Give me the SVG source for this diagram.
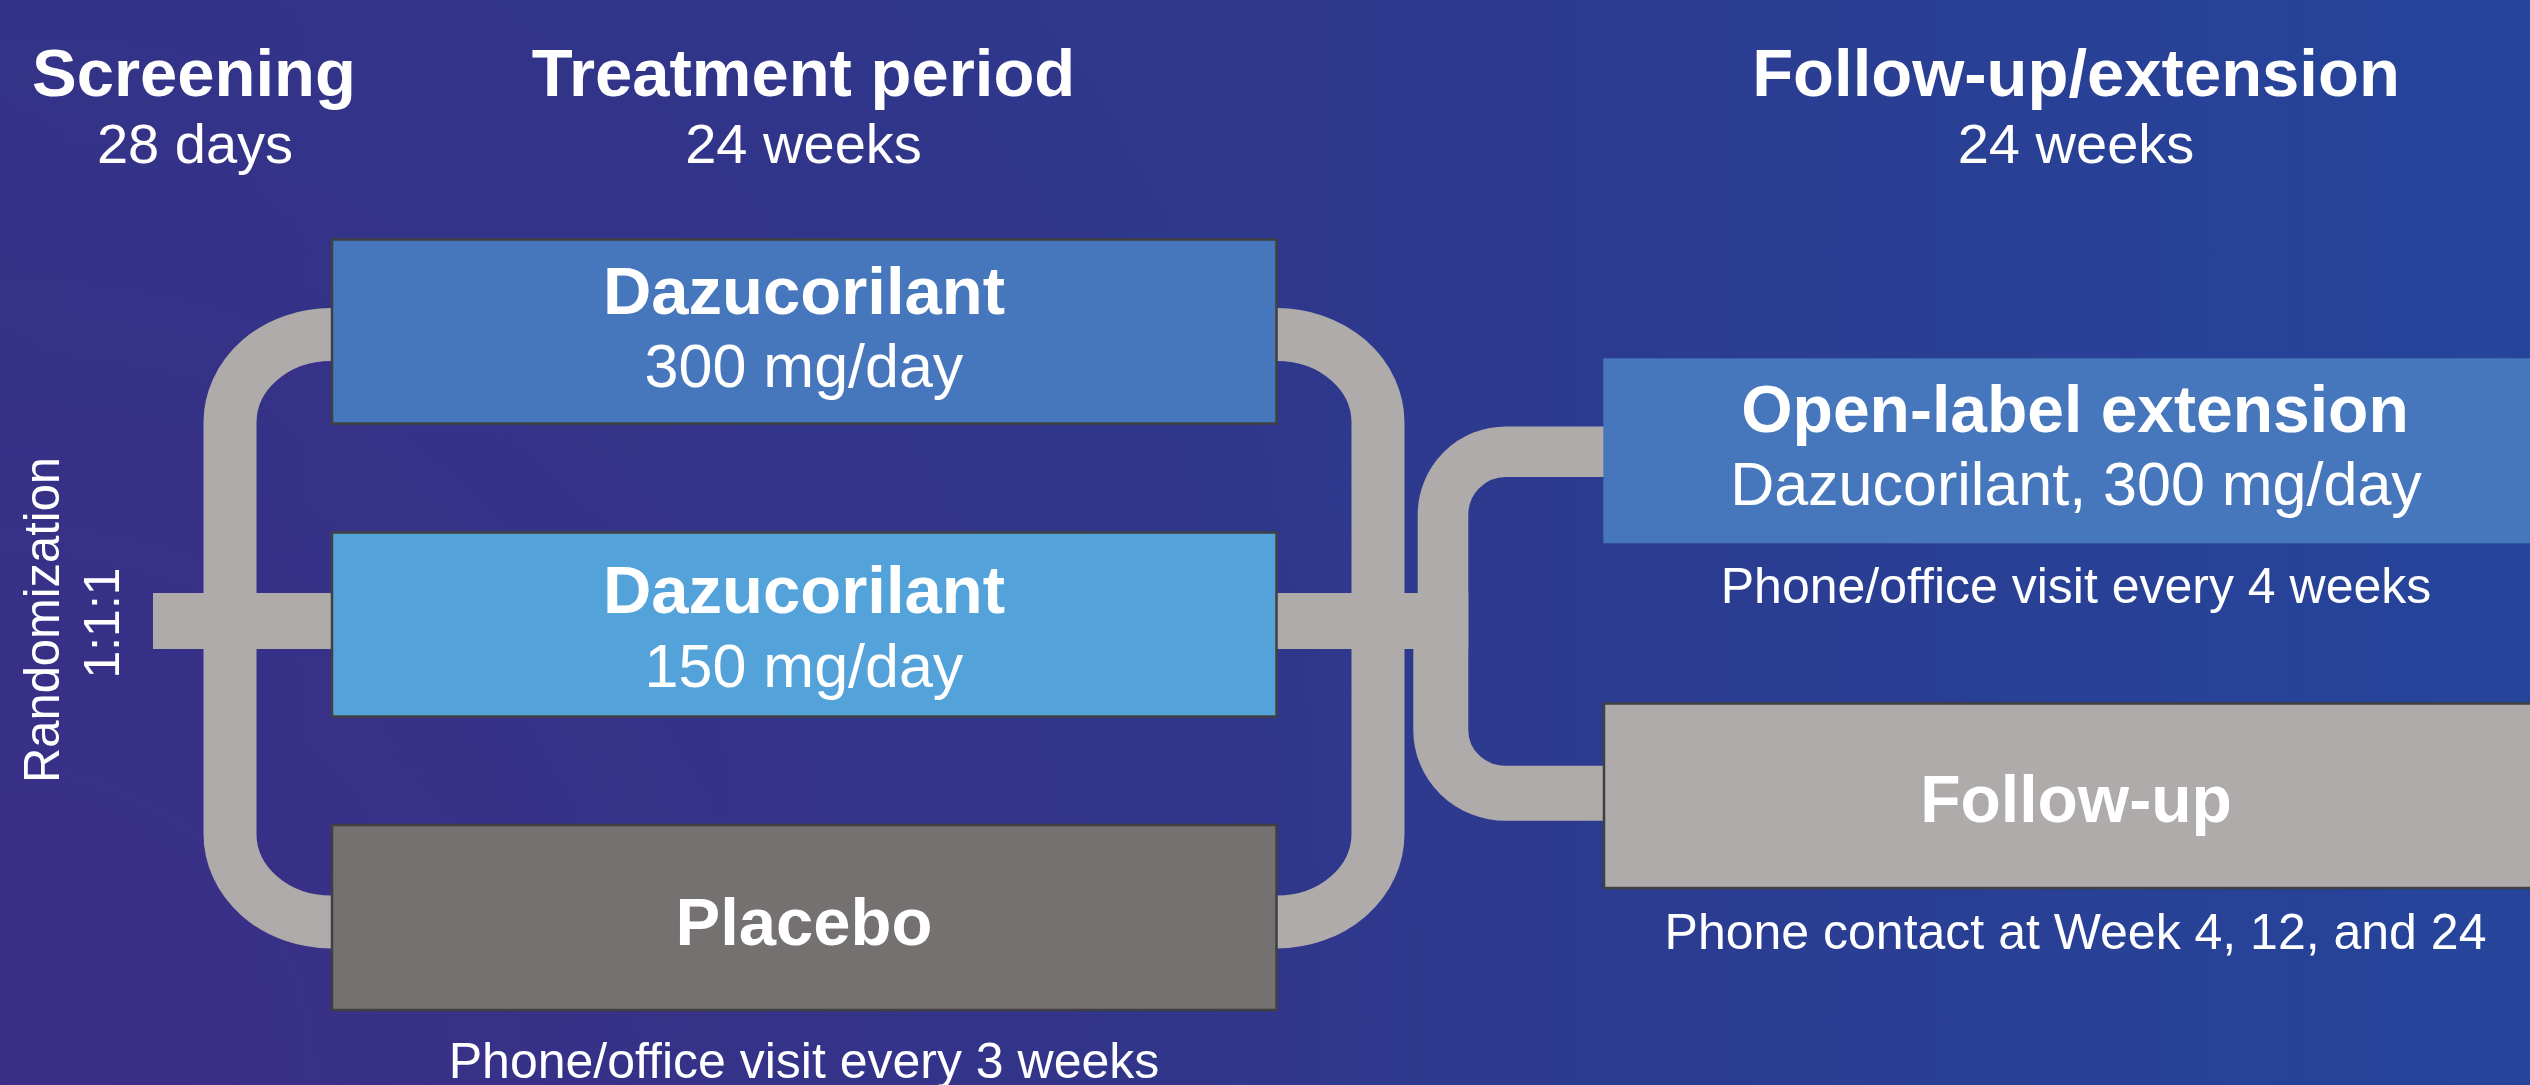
<svg xmlns="http://www.w3.org/2000/svg" width="2530" height="1085" viewBox="0 0 2530 1085">
  <defs>
    <linearGradient id="bg" gradientUnits="userSpaceOnUse" x1="0" y1="0" x2="2530" y2="0">
      <stop offset="0" stop-color="#2F3589"/>
      <stop offset="0.5" stop-color="#2E388C"/>
      <stop offset="1" stop-color="#25459B"/>
    </linearGradient>
    <radialGradient id="bgPurple" gradientUnits="userSpaceOnUse" cx="0" cy="1085" r="1500">
      <stop offset="0" stop-color="#3C2E86" stop-opacity="0.95"/>
      <stop offset="1" stop-color="#3C2E86" stop-opacity="0"/>
    </radialGradient>
    <style>
      text { font-family: "Liberation Sans", Arial, sans-serif; fill: #FFFFFF; text-anchor: middle; }
      .hb { font-weight: bold; font-size: 67px; }
      .hs { font-size: 56px; }
      .bb { font-weight: bold; font-size: 67px; }
      .bs { font-size: 61px; }
      .note { font-size: 50px; }
      .pipe { fill: none; stroke: #AEABAA; }
      .bar { fill: #AEABAA; }
      .box { stroke: #404040; stroke-width: 2.5; }
    </style>
  </defs>
  <rect x="0" y="0" width="2530" height="1085" fill="url(#bg)"/>
  <rect x="0" y="0" width="2530" height="1085" fill="url(#bgPurple)"/>

  <g id="headers">
    <text class="hb" x="194" y="96">Screening</text>
    <text class="hs" x="195" y="163">28 days</text>
    <text class="hb" x="803.5" y="96">Treatment period</text>
    <text class="hs" x="803.5" y="163">24 weeks</text>
    <text class="hb" x="2076" y="96">Follow-up/extension</text>
    <text class="hs" x="2076" y="163">24 weeks</text>
  </g>

  <g id="randomization">
    <text class="note" transform="translate(59,620) rotate(-90)" textLength="326" lengthAdjust="spacingAndGlyphs">Randomization</text>
    <text class="note" transform="translate(119,623) rotate(-90)">1:1:1</text>
  </g>

  <g id="connectors">
    <rect class="bar" x="153" y="593" width="182" height="56"/>
    <path class="pipe" stroke-width="53" d="M 336 334.5 H 331 A 101 88 0 0 0 230 422.5 V 834 A 101 88 0 0 0 331 922 H 336"/>
    <rect class="bar" x="1272" y="593" width="196.3" height="56"/>
    <path class="pipe" stroke-width="53" d="M 1272 334.5 H 1277 A 101 88 0 0 1 1378 422.5 V 834 A 101 88 0 0 1 1277 922 H 1272"/>
    <path class="pipe" stroke-width="50.6" d="M 1606 451.7 H 1506 A 63 63 0 0 0 1443 514.7 V 621"/>
    <path class="pipe" stroke-width="55" d="M 1440.8 621 V 730 A 65 63 0 0 0 1505.8 793.3 H 1606"/>
  </g>

  <g id="node-dazu300">
    <rect class="box" x="332" y="239.5" width="944.5" height="184" fill="#4677BC"/>
    <text class="bb" x="804" y="314">Dazucorilant</text>
    <text class="bs" x="804" y="387">300 mg/day</text>
  </g>

  <g id="node-dazu150">
    <rect class="box" x="332" y="532.5" width="944.5" height="184" fill="#53A3DA"/>
    <text class="bb" x="804" y="613">Dazucorilant</text>
    <text class="bs" x="804" y="687">150 mg/day</text>
  </g>

  <g id="node-placebo">
    <rect class="box" x="332" y="825" width="944.5" height="185" fill="#757170"/>
    <text class="bb" x="804" y="945">Placebo</text>
  </g>

  <g id="note-treatment">
    <text class="note" x="804" y="1078">Phone/office visit every 3 weeks</text>
  </g>

  <g id="node-ole">
    <rect x="1603.3" y="358.3" width="930" height="185" fill="#4677BC"/>
    <text class="bb" x="2075" y="432" style="font-size:66px">Open-label extension</text>
    <text class="bs" x="2076" y="505">Dazucorilant, 300 mg/day</text>
  </g>

  <g id="note-ole">
    <text class="note" x="2076" y="603">Phone/office visit every 4 weeks</text>
  </g>

  <g id="node-followup">
    <rect class="box" x="1604" y="703.5" width="930" height="184.5" fill="#AEABAA"/>
    <text class="bb" x="2076" y="822" style="font-size:66px">Follow-up</text>
  </g>

  <g id="note-followup">
    <text class="note" x="2075.5" y="949">Phone contact at Week 4, 12, and 24</text>
  </g>
</svg>
